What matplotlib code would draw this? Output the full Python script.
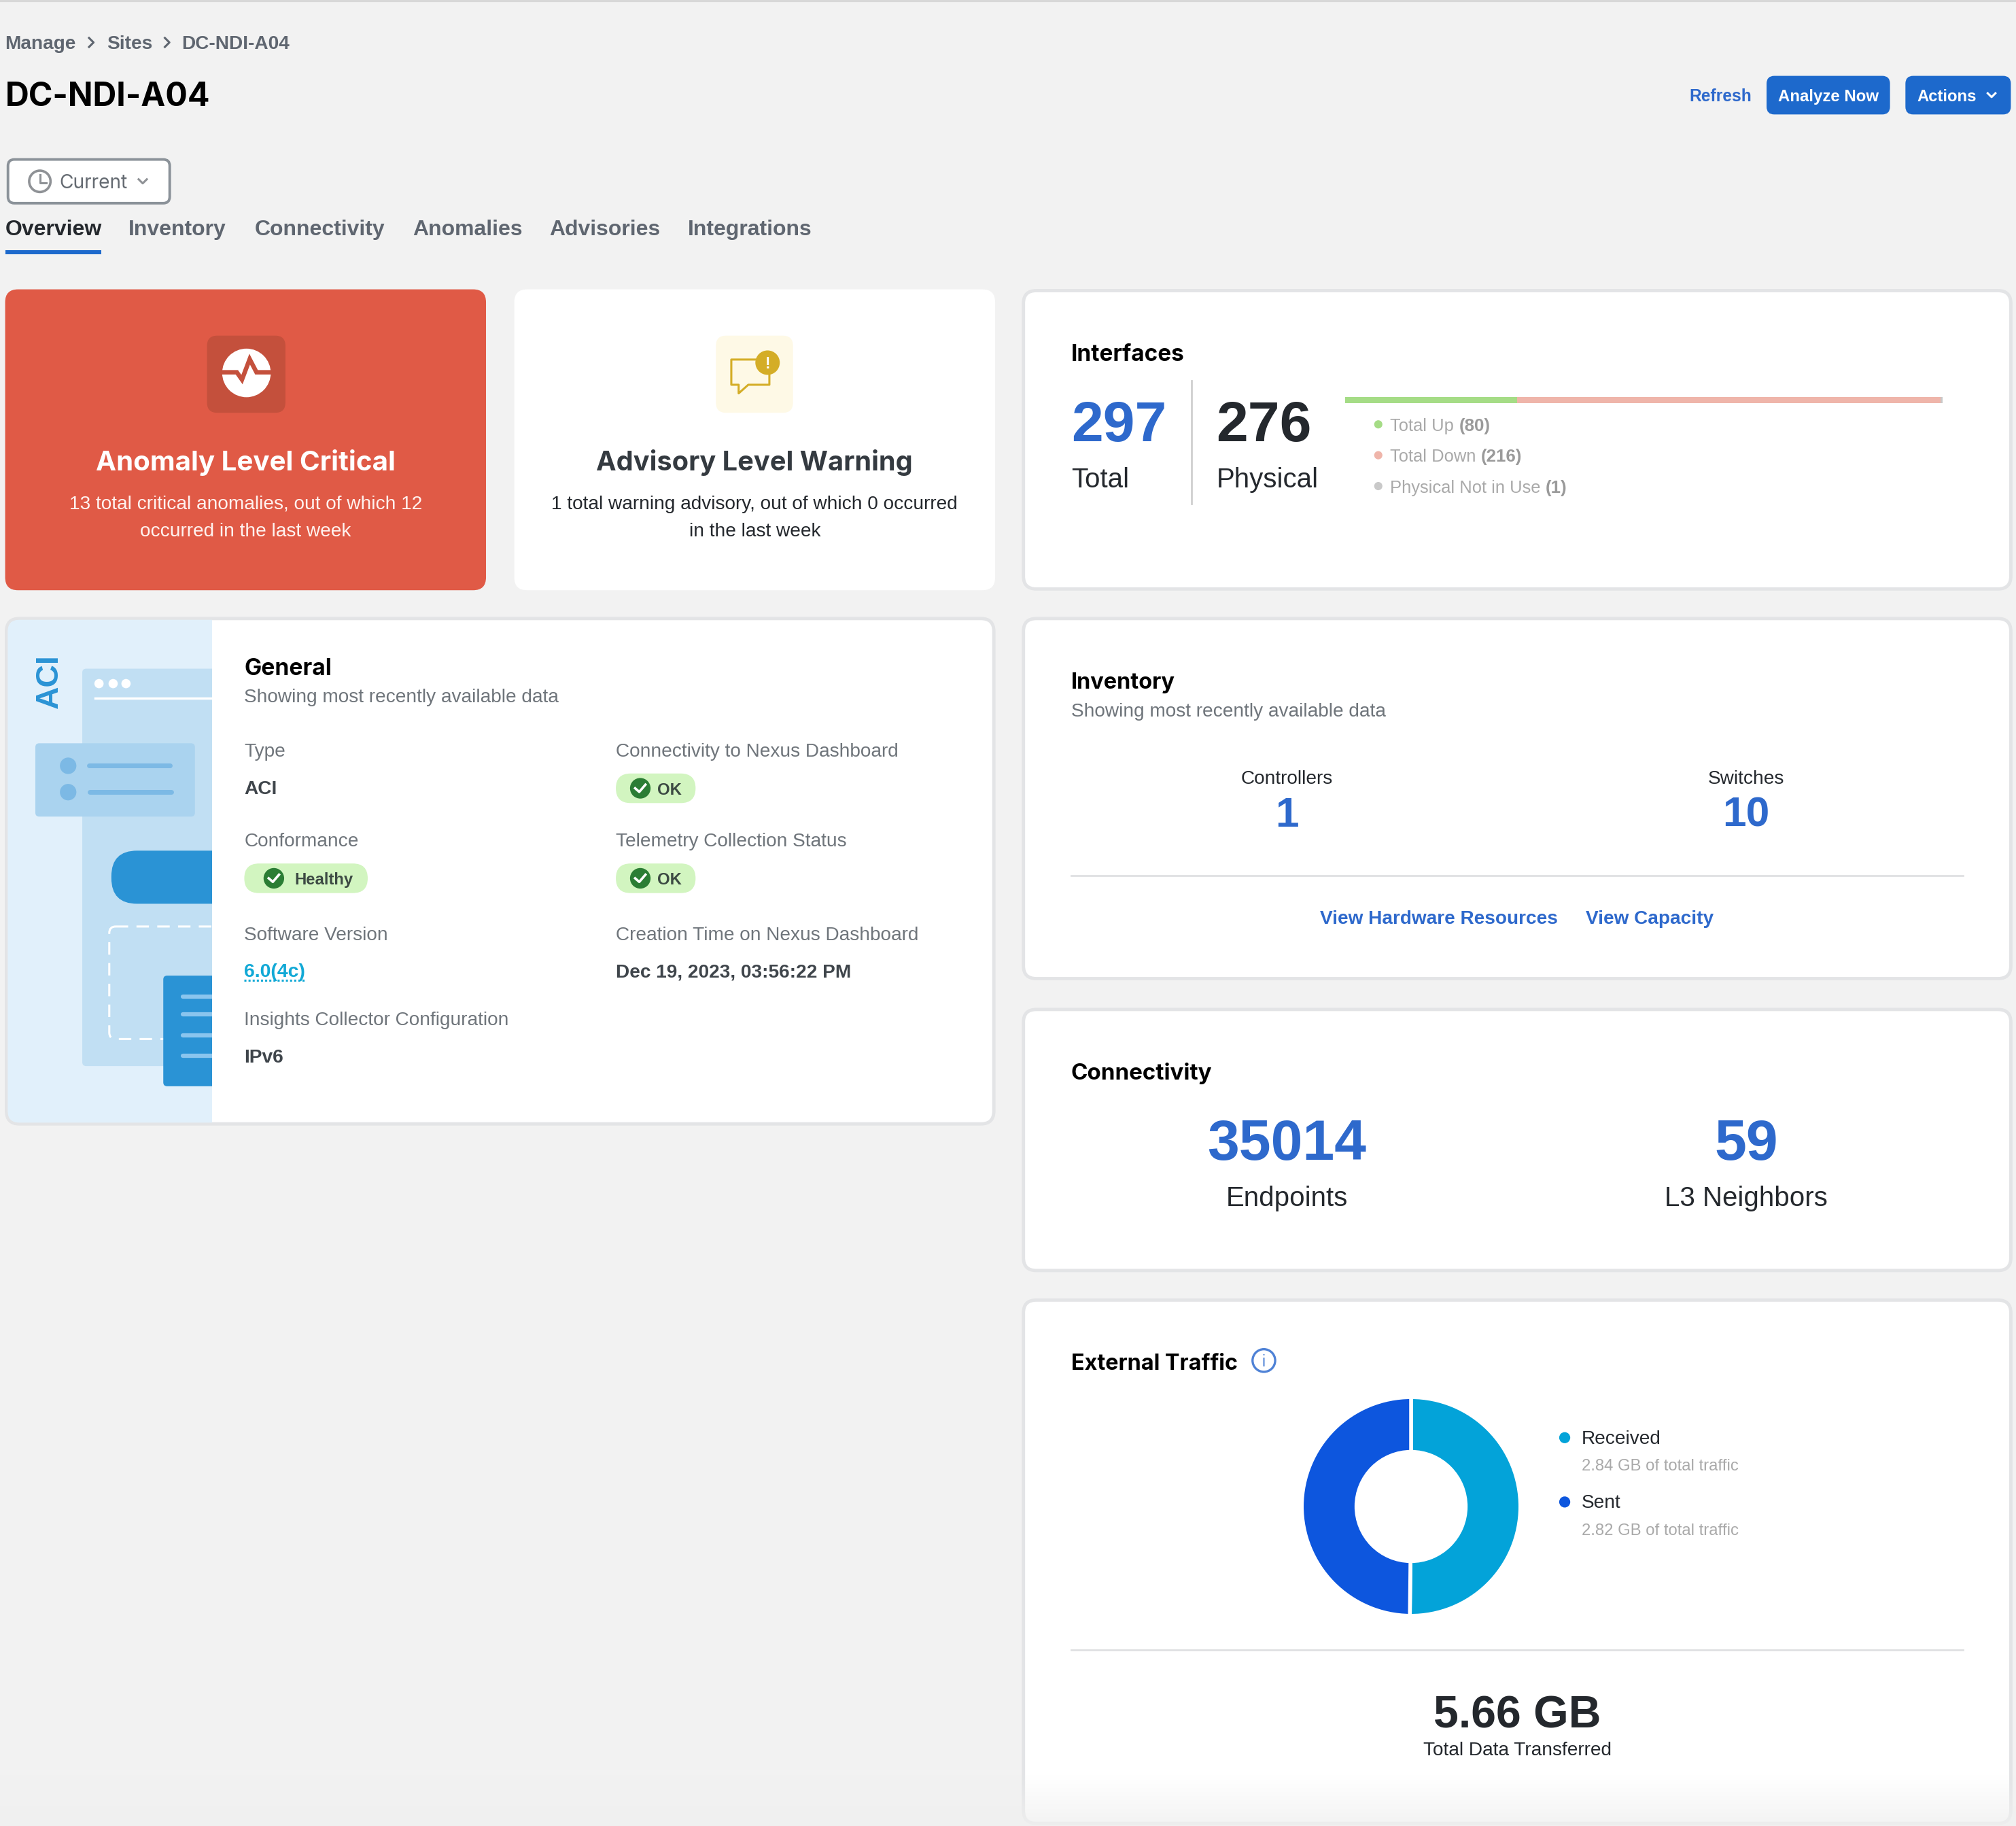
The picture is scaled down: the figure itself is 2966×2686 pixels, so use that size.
import numpy as np
import matplotlib
matplotlib.use('Agg')
import matplotlib.pyplot as plt
from matplotlib.patches import FancyBboxPatch, Rectangle, Circle, Polygon

# values
site_name = 'DC-NDI-A04'
breadcrumbs = ['Manage', 'Sites', site_name]
tabs = ['Overview', 'Inventory', 'Connectivity', 'Anomalies', 'Advisories', 'Integrations']
tab_x = [4, 100, 198, 321, 427, 535]

iface_total = 297
iface_physical = 276
iface_labels = ['Total Up', 'Total Down', 'Physical Not in Use']
iface_counts = [80, 216, 1]
# the bar in the screenshot is not quite proportional to the counts
iface_bar_share = [0.288, 0.708, 0.004]
iface_colors = ['#a5dc86', '#efb5aa', '#c9c9c9']

controllers = 1
switches = 10
endpoints = 35014
l3_neighbors = 59

traffic_labels = ['Received', 'Sent']
traffic_gb = [2.84, 2.82]
traffic_colors = ['#03a3d9', '#0d56de']
traffic_total = '5.66 GB'

W, H = 2966, 2686
SCALE = W / 1568  # layout numbers below are in 1568 wide units
HEAD = 'Inter'
BODY = 'Liberation Sans'
BLUE = '#2e69cc'
DARK = '#24282d'
GRAY = '#6f757b'
LIGHT = '#a9a9a9'
LINE = '#dfe0e2'

fig = plt.figure(figsize=(W / 100, H / 100), dpi=100, facecolor='#f2f2f2')
ax = fig.add_axes([0, 0, 1, 1])
ax.set_xlim(0, W / SCALE)
ax.set_ylim(H / SCALE, 0)
ax.axis('off')


def fs(px):
    return px * SCALE * 0.72


def txt(x, y, s, size, color=DARK, bold=False, ha='left', font=BODY, **kw):
    return ax.text(x, y, s, fontsize=fs(size), color=color, ha=ha, va='center_baseline',
                   family=font, fontweight='bold' if bold else 'normal', zorder=10, **kw)


def head(x, y, s, size, color='black', ha='left'):
    return txt(x, y, s, size, color, True, ha, HEAD)


def num(x, y, s, size, color=BLUE, ha='left'):
    return txt(x, y, s, size, color, True, ha, BODY)


def box(x0, y0, x1, y1, fc, r=8, ec='none', lw=0, clip=None, z=2, **kw):
    p = FancyBboxPatch((x0, y0), x1 - x0, y1 - y0, boxstyle=f'round,pad=0,rounding_size={r}',
                       fc=fc, ec=ec, lw=lw, zorder=z, **kw)
    ax.add_patch(p)
    if clip is not None:
        p.set_clip_path(clip)
    return p


def chevron(x, y, s=3, color=GRAY, down=True):
    if down:
        ax.plot([x - s, x, x + s], [y - s / 2, y + s / 2, y - s / 2], color=color, lw=2.2, zorder=10)
    else:
        ax.plot([x - s / 2, x + s / 2, x - s / 2], [y - s, y, y + s], color=color, lw=2.2, zorder=10)


def check(x, y, s, color='white'):
    ax.plot([x - s, x - s * 0.2, x + s], [y, y + s * 0.7, y - s * 0.7], color=color, lw=2.6, zorder=11)


def status_pill(x0, x1, y, label):
    box(x0, y - 11.5, x1, y + 11.5, '#d2f5c0', r=11.5)
    ix = x0 + 19 if label == 'OK' else x0 + 23
    ax.add_patch(Circle((ix, y), 8, fc='#2b7d34', ec='none', zorder=9))
    check(ix, y, 4)
    txt(x0 + 32 if label == 'OK' else x0 + 39, y, label, 12.6, '#3c4a43', True)


# top line and header
ax.plot([0, 1568], [0.4, 0.4], color='#d8d8d8', lw=3)
bx = [4, 83, 141]
for x, s in zip(bx, breadcrumbs):
    txt(x, 33, s, 14.8, '#5f6670', True)
chevron(71, 33, 3.5, '#5f6670', False)
chevron(130, 33, 3.5, '#5f6670', False)
head(4, 73, site_name, 25.5)

txt(1338, 74, 'Refresh', 13, BLUE, True, 'center')
box(1374, 59, 1470, 89, '#1d69cc', 6)
txt(1422, 74, 'Analyze Now', 12.7, 'white', True, 'center')
box(1482, 59, 1564, 89, '#1d69cc', 6)
txt(1491, 74, 'Actions', 12.6, 'white', True)
chevron(1549, 74, 3, 'white')

box(6.2, 124, 132, 158, 'white', 5, '#8b9299', 2.8)
ax.add_patch(Circle((31, 141), 8.3, fc='none', ec='#8f9296', lw=2.6, zorder=9))
ax.plot([31, 31, 36], [136, 142, 142], color='#8f9296', lw=2.2, zorder=9)
txt(46, 141, 'Current', 14.9, '#656b72', font=HEAD)
chevron(111, 141, 3.2, '#8f9296')

for x, s in zip(tab_x, tabs):
    txt(x, 177, s, 16.9, DARK if s == 'Overview' else '#5f6670', True)
ax.add_patch(Rectangle((4, 194.5), 75, 3, fc='#1d69cc', ec='none', zorder=5))

# two top status cards
box(4, 225, 378, 459, '#e05a46', 10)
box(400, 225, 774, 459, 'white', 10)

box(161, 261, 222, 321, '#c4503c', 8)
ax.add_patch(Circle((191.7, 290), 18.9, fc='white', ec='none', zorder=4))
ax.plot([171, 184.2, 188.2, 194.2, 199.5, 212], [289.5, 289.5, 295.2, 279.3, 289.5, 289.5],
        color='#c4503c', lw=4.7, solid_joinstyle='miter', zorder=7)

box(556.8, 261, 616.8, 321, '#fef9e6', 8)
ax.add_patch(Polygon([(568.8, 279.6), (598.4, 279.6), (598.4, 299.2), (582, 299.2), (574.5, 305.9),
                      (574.5, 299.2), (568.8, 299.2)], fc='none', ec='#d4ad27', lw=2.2,
                     joinstyle='round', zorder=4))
ax.add_patch(Circle((597, 282), 9.5, fc='#d4ad27', ec='none', zorder=5))
txt(597, 282, '!', 12, 'white', True, 'center')

head(191, 357.5, 'Anomaly Level Critical', 21.3, 'white', 'center')
txt(191, 390.5, '13 total critical anomalies, out of which 12', 14.8, '#fff2ef', ha='center')
txt(191, 412, 'occurred in the last week', 14.8, '#fff2ef', ha='center')
head(587, 357.5, 'Advisory Level Warning', 21, '#343a40', 'center')
txt(587, 390.5, '1 total warning advisory, out of which 0 occurred', 14.8, DARK, ha='center')
txt(587, 412, 'in the last week', 14.8, DARK, ha='center')

# bordered cards
for y0, y1 in [(226, 458), (481, 761), (785, 988), (1011, 1418)]:
    box(796, y0, 1564, y1, 'white', 10, '#e3e4e6', 3.5)
box(5, 481, 773, 874, 'white', 10, '#e3e4e6', 3.5)

# illustration on the left of the General card
clip = Rectangle((0, 470), 165, 420, transform=ax.transData)
box(6, 482, 200, 873, '#e1f0fb', 9, z=3, clip=clip)
box(64, 520, 200, 829, '#c1dff3', 3, z=3, clip=clip)
for x in [77, 88, 98]:
    ax.add_patch(Circle((x, 531.6), 3.6, fc='white', ec='none', zorder=4))
ax.plot([74, 165], [543, 543], color='white', lw=2.5, zorder=4)
box(27.5, 578, 151.6, 635, '#aad3ef', 3, z=4)
for cy, x0 in [(595.5, 69), (616, 70)]:
    ax.add_patch(Circle((53, cy), 6.4, fc='#7cb9e5', ec='none', zorder=5))
    ax.plot([x0, x0 + 63], [cy, cy], color='#7cb9e5', lw=5, solid_capstyle='round', zorder=5)
box(86.6, 661.5, 240, 702.8, '#2a93d5', 20, z=4, clip=clip)
box(85, 720.5, 240, 808, 'none', 5, 'white', 2.2, z=4, clip=clip, linestyle=(0, (6, 4)))
box(127, 758.7, 240, 844.7, '#2a93d5', 3, z=5, clip=clip)
for cy in [774.8, 789, 805, 821]:
    ln, = ax.plot([142, 200], [cy, cy], color='#8ac5ee', lw=4.5, solid_capstyle='round', zorder=6)
    ln.set_clip_path(clip)
ax.text(38.5, 530, 'ACI', fontsize=fs(24.5), color='#2a93d5', fontweight='bold', family=BODY,
        rotation=90, ha='center', va='center', zorder=6)

# General
head(190, 518.5, 'General', 17.8)
txt(190, 541, 'Showing most recently available data', 14.8, GRAY)
for x, y, s in [(190, 583, 'Type'), (190, 653, 'Conformance'), (190, 726, 'Software Version'),
                (190, 792, 'Insights Collector Configuration'), (479, 583, 'Connectivity to Nexus Dashboard'),
                (479, 653, 'Telemetry Collection Status'), (479, 726, 'Creation Time on Nexus Dashboard')]:
    txt(x, y, s, 14.8, GRAY)
txt(190, 612, 'ACI', 14.85, '#3f454b', True)
txt(190, 821, 'IPv6', 14.85, '#3f454b', True)
txt(479, 754.5, 'Dec 19, 2023, 03:56:22 PM', 14.8, '#3f454b', True)
txt(190, 754.5, '6.0(4c)', 15, '#12a9d6', True)
ax.plot([190, 237], [762.5, 762.5], color='#12a9d6', lw=2.2, ls=(0, (1, 1)), zorder=10)
status_pill(190, 286, 683, 'Healthy')
status_pill(479, 541, 613, 'OK')
status_pill(479, 541, 683, 'OK')

# Interfaces
head(833, 274, 'Interfaces', 17.6)
num(833, 327, str(iface_total), 44.5, BLUE)
num(946, 327, str(iface_physical), 44.5, DARK)
txt(833, 371, 'Total', 21.3)
txt(946, 371, 'Physical', 21.3)
ax.plot([927, 927], [296, 392], color='#cfcfcf', lw=2)

bar_ax = fig.add_axes([1046 * SCALE / W, 1 - 313.5 * SCALE / H, 465 * SCALE / W, 5 * SCALE / H])
bar_ax.barh([0], iface_bar_share, left=np.cumsum([0] + iface_bar_share[:-1]), height=1, color=iface_colors)
bar_ax.set_xlim(0, 1)
bar_ax.set_ylim(-0.5, 0.5)
bar_ax.axis('off')

for lab, cnt, col, y, xv in zip(iface_labels, iface_counts, iface_colors, [330, 354, 378], [1135, 1152, 1202]):
    ax.add_patch(Circle((1072, y), 3.2, fc=col, ec='none', zorder=9))
    txt(1081, y, lab, 13.5, LIGHT)
    txt(xv, y, f'({cnt})', 13.7, '#9a9a9a', True)

# Inventory
head(833, 529, 'Inventory', 17.2)
txt(833, 552, 'Showing most recently available data', 14.8, GRAY)
txt(1001, 604, 'Controllers', 14.8, ha='center')
txt(1358, 604, 'Switches', 14.8, ha='center')
num(1001, 631, str(controllers), 33, BLUE, 'center')
num(1358, 631, str(switches), 33, BLUE, 'center')
ax.plot([833, 1527], [681, 681], color=LINE, lw=2)
txt(1119, 713, 'View Hardware Resources', 14.8, BLUE, True, 'center')
txt(1283, 713, 'View Capacity', 14.8, BLUE, True, 'center')

# Connectivity
head(833, 833, 'Connectivity', 17.5)
num(1001, 886, str(endpoints), 44.5, BLUE, 'center')
num(1358, 886, str(l3_neighbors), 44.5, BLUE, 'center')
txt(1001, 930, 'Endpoints', 21.3, ha='center')
txt(1358, 930, 'L3 Neighbors', 21.3, ha='center')

# External Traffic
head(833, 1059, 'External Traffic', 17.1)
ax.add_patch(Circle((983, 1058), 8.8, fc='none', ec='#4f82d6', lw=2.4, zorder=9))
txt(983, 1058, 'i', 12, '#4f82d6', ha='center')

cx, cy, rad = 1097.5, 1171.5, 85
pie_ax = fig.add_axes([(cx - rad) * SCALE / W, 1 - (cy + rad) * SCALE / H, 2 * rad * SCALE / W, 2 * rad * SCALE / H])
pie_ax.pie(traffic_gb, colors=traffic_colors, startangle=90, counterclock=False, radius=1,
           wedgeprops=dict(width=0.5, edgecolor='white', linewidth=4))
pie_ax.set_xlim(-1, 1)
pie_ax.set_ylim(-1, 1)

for lab, val, col, y in zip(traffic_labels, traffic_gb, traffic_colors, [1118, 1168]):
    ax.add_patch(Circle((1217, y), 4.3, fc=col, ec='none', zorder=9))
    txt(1230, y - 0.5, lab, 14.8)
    txt(1230, y + 21, f'{val:.2f} GB of total traffic', 12.6, LIGHT)

ax.plot([833, 1527], [1283, 1283], color=LINE, lw=2)
num(1180, 1331, traffic_total, 35, DARK, 'center')
txt(1180, 1359.5, 'Total Data Transferred', 14.8, ha='center')

# screenshot fades out at the bottom edge
fade = np.zeros((40, 1, 4))
fade[..., :3] = 0.945
fade[:, 0, 3] = np.linspace(0, 0.8, 40)
ax.imshow(fade, extent=(0, 1568, 1420, 1380), aspect='auto', zorder=20)
ax.set_xlim(0, W / SCALE)
ax.set_ylim(H / SCALE, 0)

fig.savefig('out.png', dpi=100, facecolor=fig.get_facecolor())
